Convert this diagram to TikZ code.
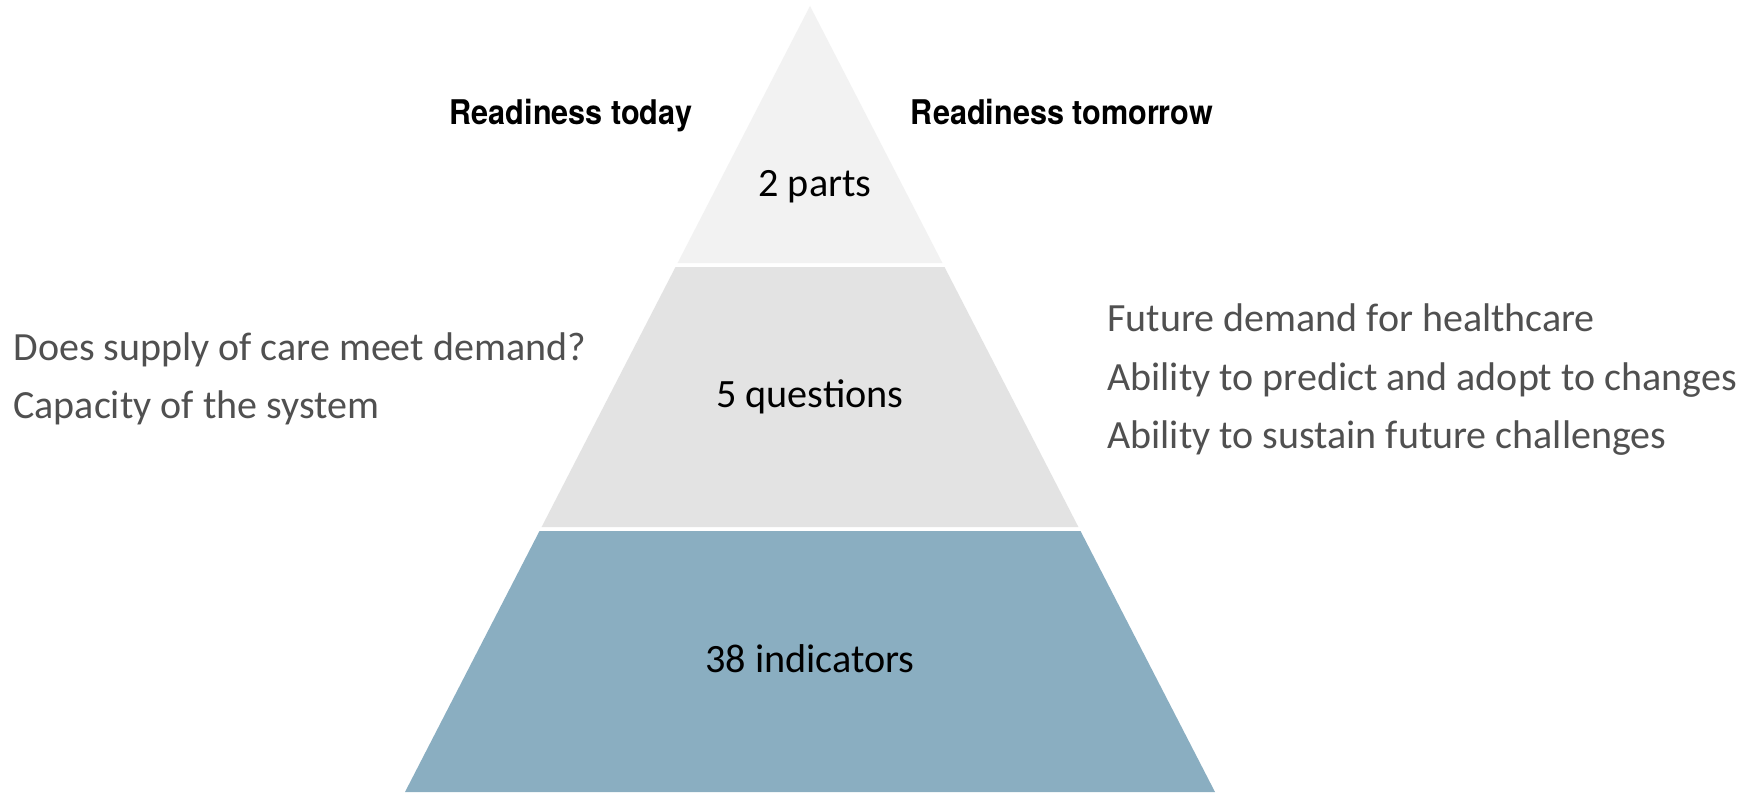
\documentclass[tikz,border=0pt]{standalone}
\usepackage{fontspec}
\setmainfont{Carlito}
\newfontfamily\headfont[FakeStretch=0.9]{TeX Gyre Heros}
\definecolor{topband}{HTML}{F2F2F2}
\definecolor{midband}{HTML}{E3E3E3}
\definecolor{lowband}{HTML}{8AAEC1}
\definecolor{sidegray}{HTML}{505050}
\tikzset{
  band/.style={draw=none},
  head/.style={anchor=base, inner sep=0pt, font=\headfont\bfseries\fontsize{17}{20}\selectfont, text=black},
  tier/.style={anchor=base, inner sep=0pt, font=\fontsize{20.1}{24}\selectfont, text=black},
  side/.style={anchor=base west, inner sep=0pt, font=\fontsize{20}{24}\selectfont, text=sidegray}
}
\begin{document}
\begin{tikzpicture}[x=0.5pt,y=-0.5pt]
\useasboundingbox[fill=white] (0,0) rectangle (1754,792);
% pyramid: apex (810,6), base (405,792)-(1215,792)
\coordinate (apex) at (810,6);
\fill[topband, band] (apex) -- (677.6,263) -- (942.4,263) -- cycle;
\fill[midband, band] (675.5,267) -- (944.5,267) -- (1078.4,527) -- (541.6,527) -- cycle;
\fill[lowband, band] (539.5,531) -- (1080.5,531) -- (1215,792) -- (405,792) -- cycle;
\node[tier] (parts) at (815,196) {2 parts};
\node[tier] (questions) at (810,407) {5 questions};
\node[tier] (indicators) at (810,672) {38 indicators};
\node[head] (today) at (571,125) {Readiness today};
\node[head] (tomorrow) at (1062,125) {Readiness tomorrow};
\node[side] (l1) at (13,360) {Does supply of care meet demand?};
\node[side] (l2) at (13,418) {Capacity of the system};
\node[side] (r1) at (1107,331) {Future demand for healthcare};
\node[side] (r2) at (1107,390) {Ability to predict and adopt to changes};
\node[side] (r3) at (1107,448) {Ability to sustain future challenges};
\end{tikzpicture}
\end{document}
